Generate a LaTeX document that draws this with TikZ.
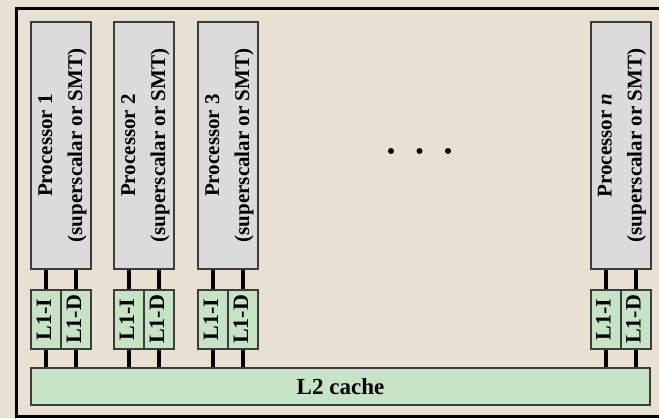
\documentclass[tikz,border=0pt]{standalone}
\usepackage{fontspec}
\setmainfont{Liberation Serif}
\usepackage{graphicx}
\usetikzlibrary{positioning}
\definecolor{paper}{HTML}{E7E0D3}
\definecolor{procgray}{HTML}{DBDBDB}
\definecolor{cachegreen}{HTML}{C6E3C6}
\definecolor{edge}{HTML}{3C3C3C}
\newcommand{\rot}[1]{\rotatebox{90}{\begin{tabular}{@{}c@{}}#1\end{tabular}}}
\tikzset{
  base/.style={draw=edge,line width=2pt,inner sep=0pt,align=center},
  proc/.style={base,fill=procgray,minimum width=60pt,minimum height=247pt,
               font=\bfseries\fontsize{21}{30}\selectfont},
  lone/.style={base,fill=cachegreen,minimum width=30pt,minimum height=59pt,
               font=\bfseries\fontsize{22}{26}\selectfont},
  ltwo/.style={base,fill=cachegreen,minimum width=619pt,minimum height=37pt,
               font=\bfseries\fontsize{23}{27}\selectfont},
  bus/.style={line width=4pt,draw=black},
  frame/.style={line width=3pt,draw=black}
}
\begin{document}
\begin{tikzpicture}[x=1pt,y=1pt]
  \useasboundingbox (0,0) rectangle (659,418);
  \fill[paper] (0,0) rectangle (659,418);
  \draw[frame] (659,409.5) -| (16.5,2) -- (659,2);
  % processors with their split L1 caches
  \foreach \i/\x/\lab in {1/61/1,2/144/2,3/228/3,4/620.5/\textit{n}}{
    \node[proc] (p\i) at (\x,272.5) {\rot{Processor \lab\\(superscalar or SMT)}};
    \node[lone,below right=19pt and 0pt of p\i.south west] (i\i) {\rot{L1-I}};
    \node[lone,right=-2pt of i\i] (d\i) {\rot{L1-D}};
  }
  \node[ltwo] (l2) at (340.5,31.5) {L2 cache};
  \foreach \i in {1,...,4}{
    \draw[bus] (i\i.north) -- (p\i.south -| i\i.north);
    \draw[bus] (d\i.north) -- (p\i.south -| d\i.north);
    \draw[bus] (i\i.south) -- (l2.north -| i\i.south);
    \draw[bus] (d\i.south) -- (l2.north -| d\i.south);
  }
  \foreach \x in {391,419.5,448} \fill (\x,267) circle (3pt);
\end{tikzpicture}
\end{document}
